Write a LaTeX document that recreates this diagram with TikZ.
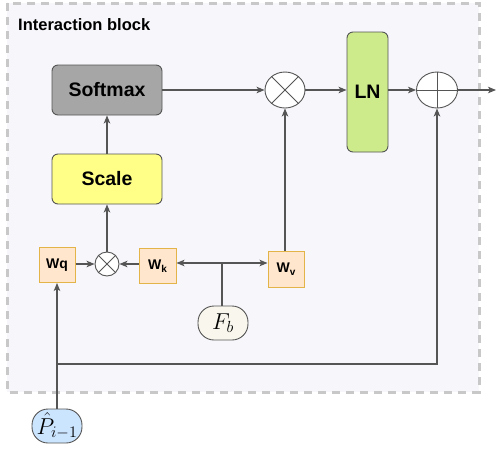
\RequirePackage{fix-cm}
\documentclass[tikz,border=0pt]{standalone}
\usepackage{fontspec}
\setmainfont{Liberation Sans}
\usetikzlibrary{arrows.meta,shapes.geometric}
\definecolor{bgpanel}{HTML}{F7F6FA}
\definecolor{dashgray}{HTML}{C8C8C8}
\definecolor{edgegray}{HTML}{555555}
\definecolor{softgray}{HTML}{A6A6A6}
\definecolor{scaleyellow}{HTML}{FFFF88}
\definecolor{lngreen}{HTML}{CDEB8B}
\definecolor{wfill}{HTML}{FFE6CC}
\definecolor{wborder}{HTML}{E3B448}
\definecolor{fbfill}{HTML}{F9F7ED}
\definecolor{pfill}{HTML}{CCE5FF}
\begin{document}
\begin{tikzpicture}[x=1pt,y=-1pt,
  conn/.style={draw=edgegray,line width=1.1pt},
  arr/.style={conn,-{Stealth[length=8pt,width=6.5pt,inset=2pt]}},
  bigbox/.style={draw=edgegray,line width=0.9pt,rounded corners=6pt,inner sep=0pt,
    font=\fontsize{19.5}{20}\selectfont\bfseries},
  wbox/.style={draw=wborder,line width=1pt,fill=wfill,inner sep=0pt,
    minimum width=36pt,minimum height=35pt,font=\fontsize{14}{14}\selectfont\bfseries},
  opell/.style={ellipse,draw=edgegray,line width=0.9pt,fill=white,inner sep=0pt},
  pill/.style={draw=edgegray,line width=0.9pt,rounded corners=16pt,inner sep=0pt,
    minimum width=50pt,minimum height=34pt,font=\fontsize{23}{23}\selectfont}
]
\useasboundingbox (0,0) rectangle (496,451);
\draw[draw=dashgray,line width=3pt,dash pattern=on 8pt off 6pt,fill=bgpanel] (7,3) rectangle (479,392);
\node[anchor=west,inner sep=0pt,font=\fontsize{16.5}{16.5}\selectfont\bfseries] (title) at (18,25) {Interaction block};

\node[bigbox,fill=softgray,minimum width=110pt,minimum height=50pt] (softmax) at (107,90) {Softmax};
\node[bigbox,fill=scaleyellow,minimum width=110pt,minimum height=50pt] (scale) at (107,179) {Scale};
\node[bigbox,fill=lngreen,minimum width=41pt,minimum height=120pt] (ln) at (367.5,92) {LN};

\node[opell,minimum width=40pt,minimum height=36pt] (mult) at (285,90) {};
\draw[conn,line width=0.8pt] (mult.45) -- (mult.225) (mult.135) -- (mult.315);
\node[opell,minimum width=41pt,minimum height=36pt] (plus) at (437,90) {};
\draw[conn,line width=0.8pt] (plus.north) -- (plus.south) (plus.west) -- (plus.east);

\node[wbox] (wq) at (57,265) {Wq};
\node[wbox,minimum width=37pt] (wk) at (157.5,266) {W\raisebox{-2.5pt}{\fontsize{10}{10}\selectfont k}};
\node[wbox,minimum height=36pt] (wv) at (286,269) {W\raisebox{-2.5pt}{\fontsize{10}{10}\selectfont v}};

\node[opell,minimum width=24pt,minimum height=24pt] (sm) at (107,264) {};
\draw[conn,line width=0.8pt] (sm.45) -- (sm.225) (sm.135) -- (sm.315);

\node[pill,fill=fbfill] (fb) at (223,323) {$F_b$};
\node[pill,fill=pfill] (p) at (57,426) {$\hat{P}_{i-1}$};

\coordinate (out) at (496,90);
\coordinate (j) at (222,263);
\coordinate (k) at (57,364);

\draw[arr] (scale.north) -- (softmax.south);
\draw[arr] (softmax.east) -- (mult.west);
\draw[arr] (mult.east) -- (mult.east -| ln.west);
\draw[arr] (ln.east |- plus.west) -- (plus.west);
\draw[arr] (plus.east) -- (out);
\draw[arr] (wv.north -| mult.south) -- (mult.south);
\draw[arr] (sm.north) -- (scale.south);
\draw[arr] (wq.east |- sm.west) -- (sm.west);
\draw[arr] (wk.west |- sm.east) -- (sm.east);
\draw[conn] (fb.north -| j) -- (j);
\draw[arr] (j) -- (j -| wk.east);
\draw[arr] (j) -- (j -| wv.west);
\draw[arr] (p.north) -- (wq.south);
\draw[arr] (k) -- (k -| plus.south) -- (plus.south);
\end{tikzpicture}
\end{document}
